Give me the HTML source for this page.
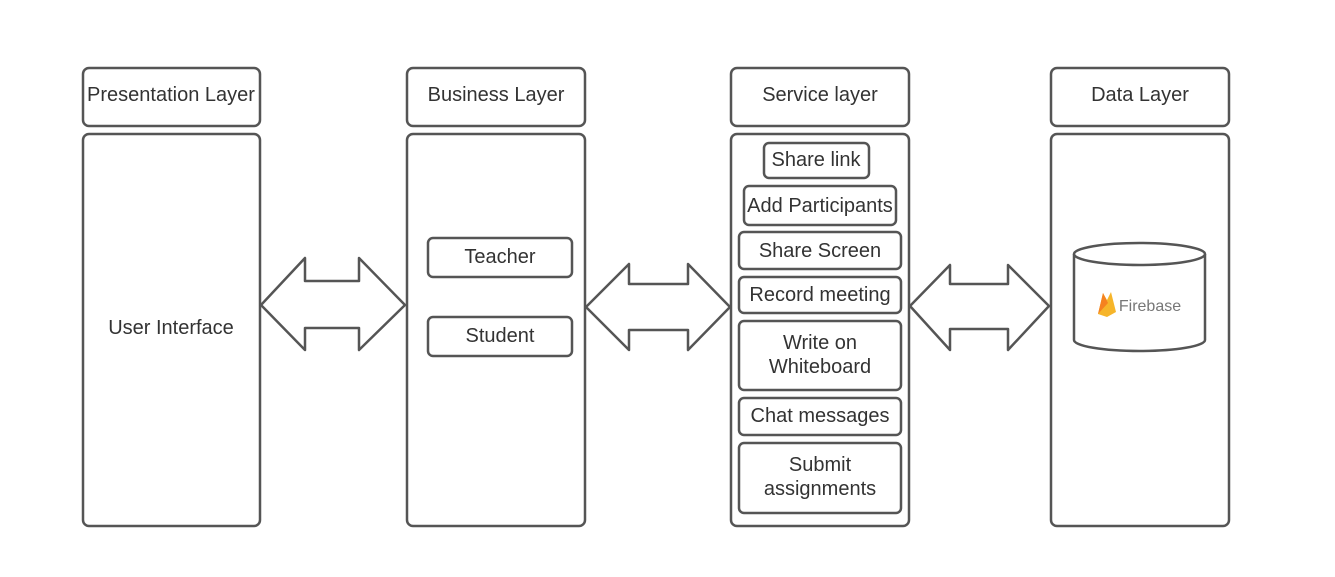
<!DOCTYPE html>
<html><head><meta charset="utf-8"><style>
html,body{margin:0;padding:0;background:#fff;}
svg{display:block;}
text{font-family:"Liberation Sans",sans-serif;fill:#333;font-size:20px;text-anchor:middle;}
</style></head><body>
<svg width="1335" height="577" viewBox="0 0 1335 577" xmlns="http://www.w3.org/2000/svg">
<g fill="#fff" stroke="#555" stroke-width="2.5">
<rect x="83" y="68" width="177" height="58" rx="6"/>
<rect x="407" y="68" width="178" height="58" rx="6"/>
<rect x="731" y="68" width="178" height="58" rx="6"/>
<rect x="1051" y="68" width="178" height="58" rx="6"/>
<rect x="83" y="134" width="177" height="392" rx="6"/>
<rect x="407" y="134" width="178" height="392" rx="6"/>
<rect x="731" y="134" width="178" height="392" rx="6"/>
<rect x="1051" y="134" width="178" height="392" rx="6"/>
<rect x="428" y="238" width="144" height="39" rx="5"/>
<rect x="428" y="317" width="144" height="39" rx="5"/>
<rect x="764" y="143" width="105" height="35" rx="5"/>
<rect x="744" y="186" width="152" height="39" rx="5"/>
<rect x="739" y="232" width="162" height="37" rx="5"/>
<rect x="739" y="277" width="162" height="36" rx="5"/>
<rect x="739" y="321" width="162" height="69" rx="5"/>
<rect x="739" y="398" width="162" height="37" rx="5"/>
<rect x="739" y="443" width="162" height="70" rx="5"/>
<path d="M261 305 L305 258 L305 281 L359 281 L359 258 L405 305 L359 350 L359 328 L305 328 L305 350 Z" stroke-linejoin="round"/>
<path d="M586 307 L629 264 L629 284 L688 284 L688 264 L730 307 L688 350 L688 330 L629 330 L629 350 Z" stroke-linejoin="round"/>
<path d="M910 306 L950 265 L950 284 L1008 284 L1008 265 L1049 306 L1008 350 L1008 329 L950 329 L950 350 Z" stroke-linejoin="round"/>
<path d="M1074 254 L1074 340 A65.5 11 0 0 0 1205 340 L1205 254"/>
<ellipse cx="1139.5" cy="254" rx="65.5" ry="11"/>
</g>
<path d="M1098 314 L1103 293 L1107 300 L1111 292 L1116 312 L1107 317 Z" fill="#f6b52a"/>
<path d="M1098 314 L1103 293 L1108 303 Z" fill="#f58220"/>
<text x="1150" y="311" style="font-size:16px;fill:#777">Firebase</text>
<text x="171" y="101">Presentation Layer</text>
<text x="496" y="101">Business Layer</text>
<text x="820" y="101">Service layer</text>
<text x="1140" y="101">Data Layer</text>
<text x="171" y="334">User Interface</text>
<text x="500" y="263">Teacher</text>
<text x="500" y="342">Student</text>
<text x="816" y="166">Share link</text>
<text x="820" y="212">Add Participants</text>
<text x="820" y="257">Share Screen</text>
<text x="820" y="301">Record meeting</text>
<text x="820" y="349">Write on</text>
<text x="820" y="373">Whiteboard</text>
<text x="820" y="422">Chat messages</text>
<text x="820" y="471">Submit</text>
<text x="820" y="495">assignments</text>
</svg>
</body></html>
